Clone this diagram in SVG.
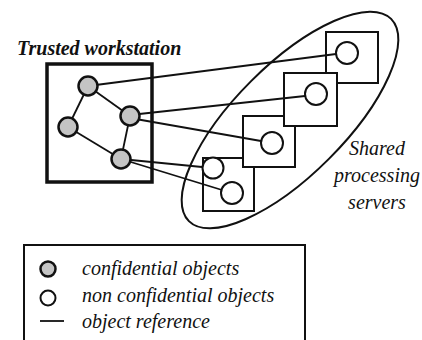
<svg xmlns="http://www.w3.org/2000/svg" width="422" height="340" viewBox="0 0 422 340">
<style>
text{font-family:"Liberation Serif","Times New Roman",serif;font-style:italic;font-size:20px;fill:#111}
.conf{fill:#c4c4c4;stroke:#111;stroke-width:2.5}
.obj{fill:#fff;stroke:#111;stroke-width:2}
.srv{fill:#fff;stroke:#111;stroke-width:2}
.ln{stroke:#111;stroke-width:1.8;fill:none}
</style>
<rect width="422" height="340" fill="#fff"/>
<g id="shared-servers-region">
<ellipse cx="290" cy="120" rx="143" ry="55" transform="rotate(-45 290 120)" fill="none" stroke="#111" stroke-width="2"/>
<text x="377" y="155" text-anchor="middle">Shared</text>
<text x="377" y="182" text-anchor="middle">processing</text>
<text x="377" y="209" text-anchor="middle">servers</text>
</g>
<g id="server1"><rect class="srv" x="326" y="32" width="52" height="51"/></g>
<g id="server4"><rect class="srv" x="203" y="158" width="51" height="53"/></g>
<g id="server3"><rect class="srv" x="243" y="116" width="52" height="51"/></g>
<g id="server2"><rect class="srv" x="284" y="73" width="53" height="53"/></g>
<g id="trusted-workstation">
<text x="17" y="55" font-weight="bold">Trusted workstation</text>
<rect x="47" y="64" width="105" height="118" fill="none" stroke="#111" stroke-width="3.5"/>
</g>
<g id="connectors">
<line class="ln" x1="88" y1="86" x2="130" y2="116"/>
<line class="ln" x1="88" y1="86" x2="68" y2="127"/>
<line class="ln" x1="68" y1="127" x2="121" y2="159"/>
<line class="ln" x1="130" y1="116" x2="121" y2="159"/>
<line class="ln" x1="88" y1="86" x2="336" y2="54"/>
<line class="ln" x1="130" y1="115" x2="305" y2="96"/>
<line class="ln" x1="130" y1="118" x2="261" y2="141"/>
<line class="ln" x1="121" y1="159" x2="202" y2="167"/>
<line class="ln" x1="121" y1="159" x2="222" y2="190"/>
</g>
<g id="conf-objects">
<circle class="conf" cx="88" cy="86" r="9.5"/>
<circle class="conf" cx="130" cy="116" r="9.5"/>
<circle class="conf" cx="68" cy="127" r="9.5"/>
<circle class="conf" cx="121" cy="159" r="9.5"/>
</g>
<g id="server-objects">
<circle class="obj" cx="347" cy="53" r="11"/>
<circle class="obj" cx="316" cy="94" r="11"/>
<circle class="obj" cx="272" cy="143" r="11"/>
<circle class="obj" cx="213" cy="168" r="10.5"/>
<circle class="obj" cx="232" cy="193" r="11"/>
</g>
<g id="legend">
<path d="M24 340 V245 H305 V340" fill="none" stroke="#111" stroke-width="2"/>
<circle class="conf" cx="48" cy="269" r="7.5" stroke-width="2"/>
<circle class="obj" cx="48" cy="298" r="7.5"/>
<line class="ln" x1="40" y1="321" x2="64" y2="321" stroke-width="2.5"/>
<text x="82" y="275">confidential objects</text>
<text x="82" y="302">non confidential objects</text>
<text x="82" y="328">object reference</text>
</g>
</svg>
